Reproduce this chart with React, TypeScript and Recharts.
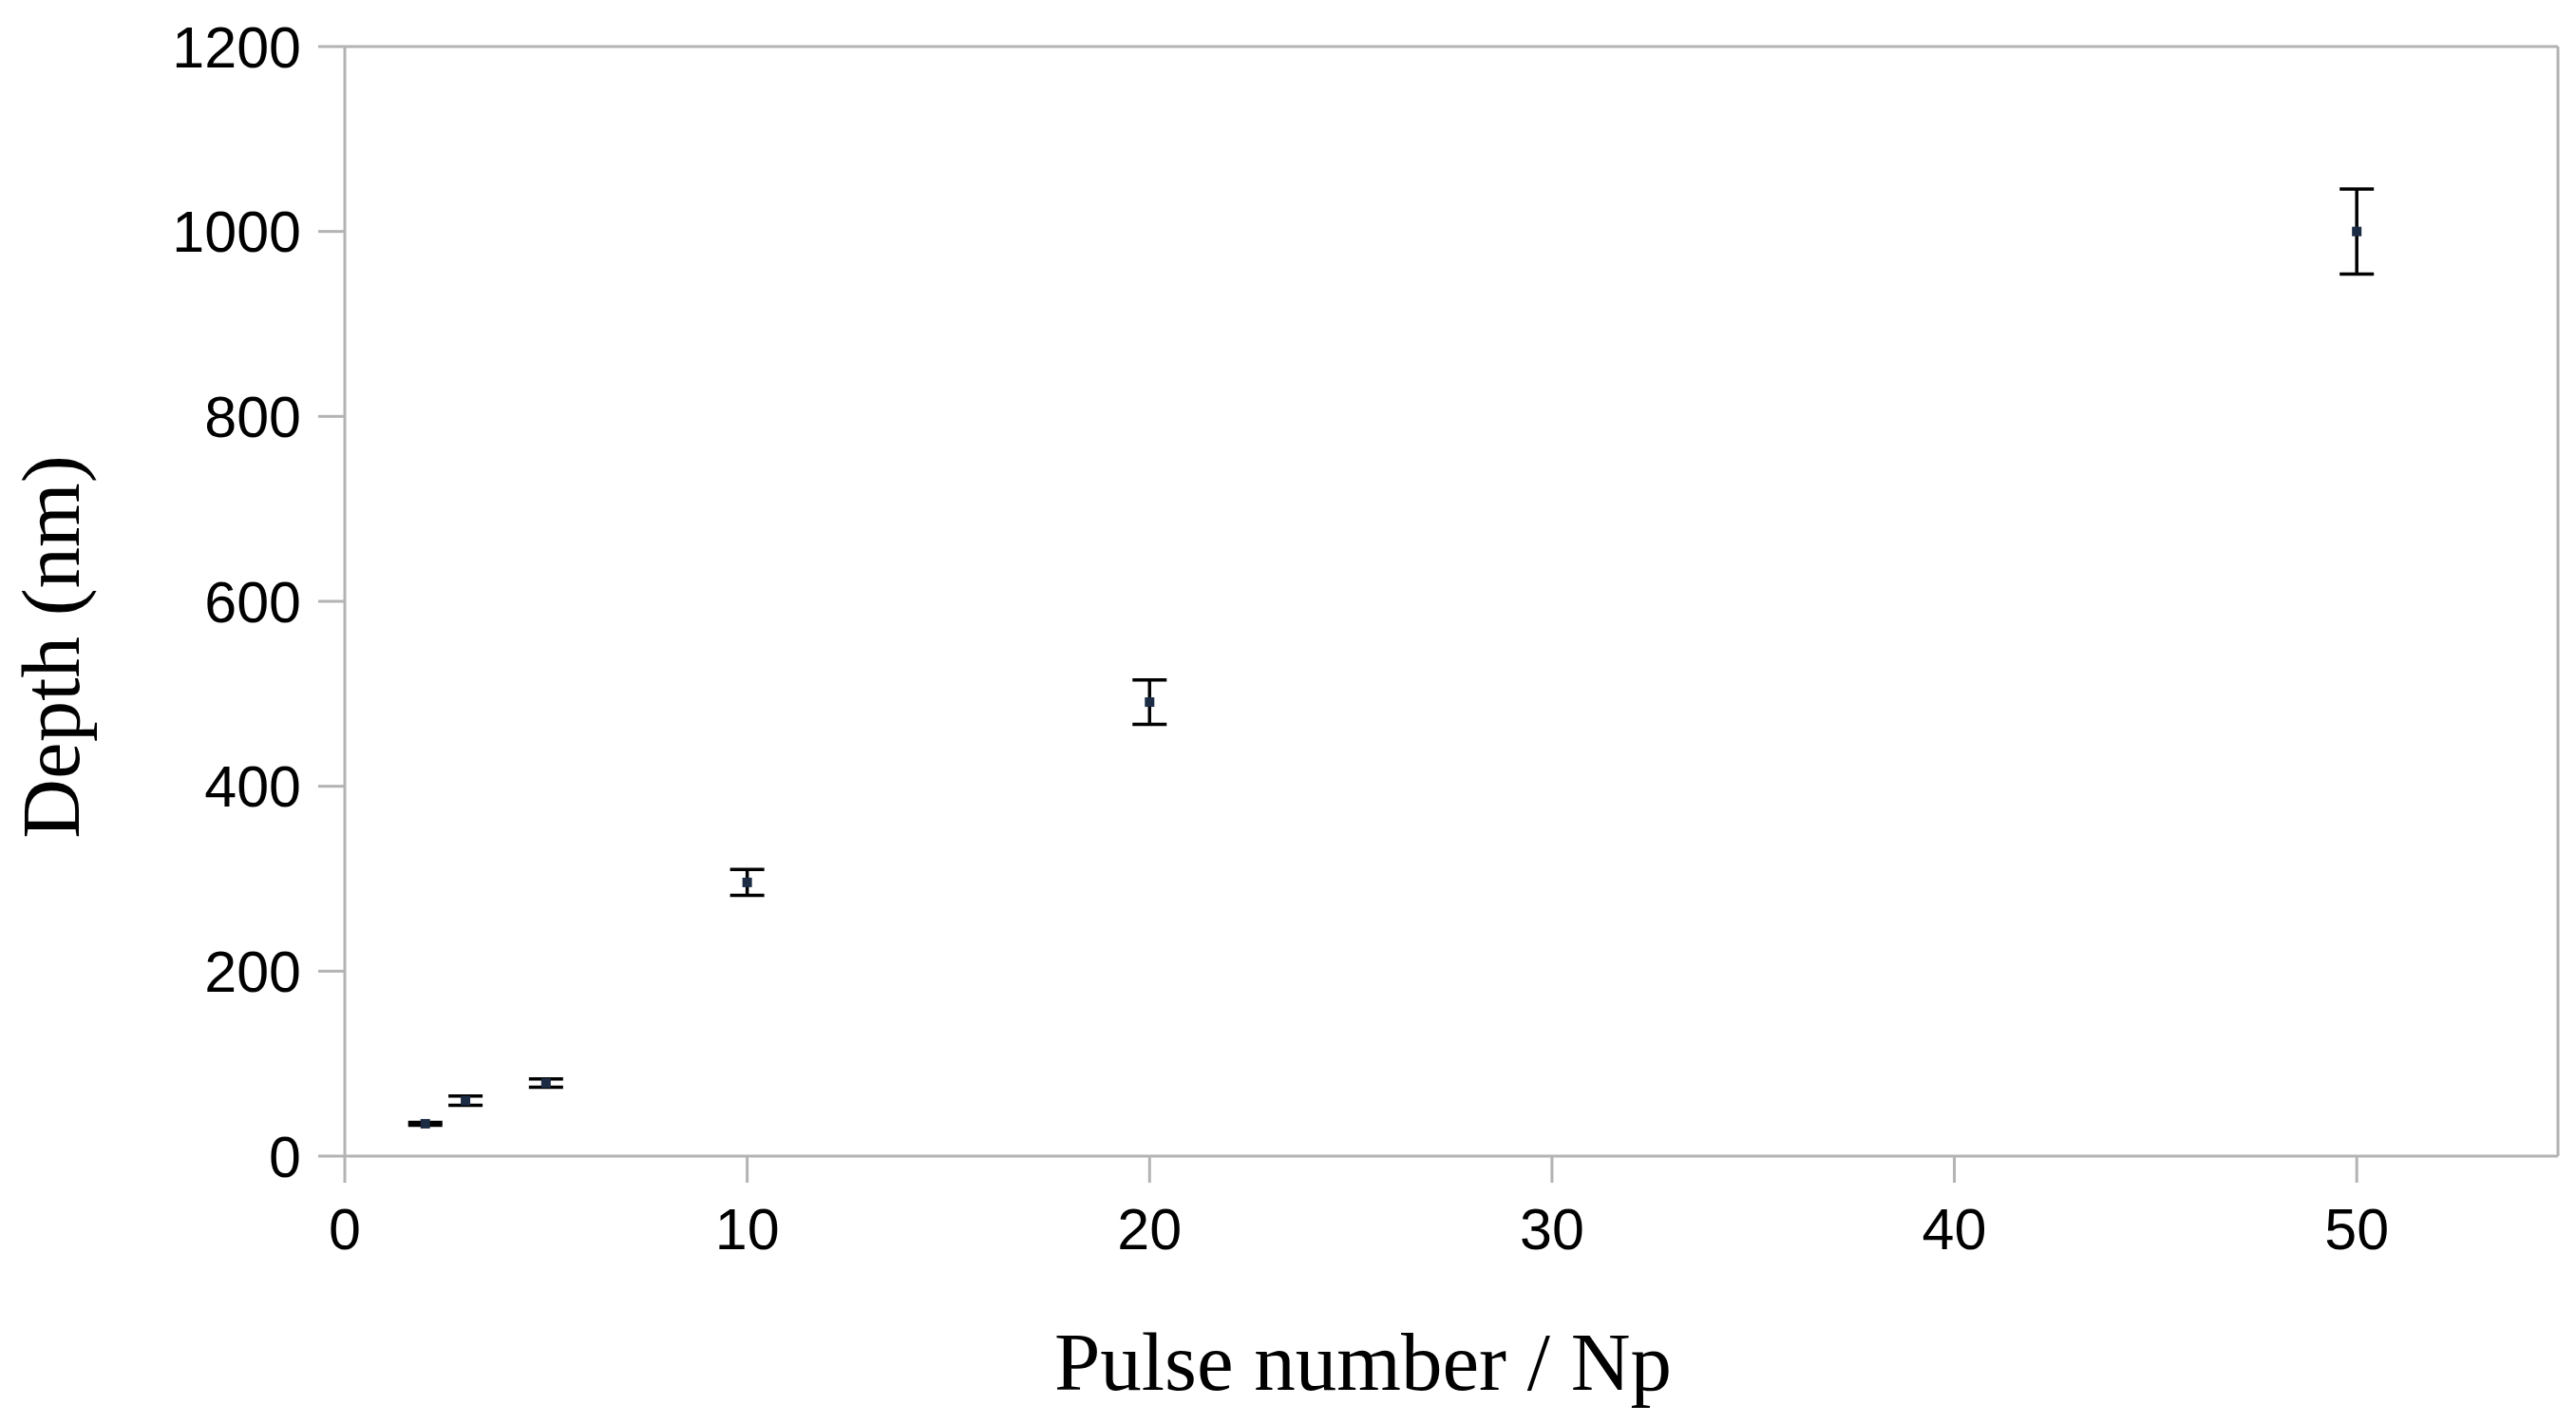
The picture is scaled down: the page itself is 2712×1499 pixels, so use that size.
import React from "react";
import {
  ScatterChart,
  Scatter,
  XAxis,
  YAxis,
  ErrorBar,
  ReferenceLine,
  Label,
} from "recharts";

const pulseNumbers = [2, 3, 5, 10, 20, 50];
const depthValues = [35, 60, 79, 296, 491, 1000];
const depthErrors = [1.5, 5, 4.5, 14, 24, 46];
const xTicks = [0, 10, 20, 30, 40, 50];
const yTicks = [0, 200, 400, 600, 800, 1000, 1200];

const data = pulseNumbers.map((x, i) => ({
  x,
  y: depthValues[i],
  err: depthErrors[i],
}));

const AXIS_COLOR = "#b3b3b3";
const tickStyle = { fontFamily: "Liberation Sans", fontSize: 61, fill: "#000" };

const SquareMarker = (props: any) => {
  const { cx, cy } = props;
  if (cx == null || cy == null) return null;
  return <rect x={cx - 5} y={cy - 5} width={10} height={10} fill="#1b2c44" />;
};

const XLabel = (props: any) => {
  const vb = props.viewBox;
  return (
    <text
      x={vb.x + vb.width / 2 - 93}
      y={vb.y + 246}
      textAnchor="middle"
      style={{ fontFamily: "Liberation Serif", fontSize: 87, fill: "#000" }}
    >
      Pulse number / Np
    </text>
  );
};

const YLabel = (props: any) => {
  const vb = props.viewBox;
  const x = vb.x + 75;
  const y = vb.y + vb.height / 2 + 48;
  return (
    <text
      x={x}
      y={y}
      textAnchor="middle"
      transform={`rotate(-90 ${x} ${y})`}
      style={{ fontFamily: "Liberation Serif", fontSize: 87, fill: "#000" }}
    >
      Depth (nm)
    </text>
  );
};

export default function App() {
  return (
    <div style={{ width: 2696, height: 1483, background: "#fff" }}>
      <ScatterChart
        width={2696}
        height={1483}
        margin={{ top: 41, right: 11, left: 0, bottom: 0 }}
      >
        <XAxis
          type="number"
          dataKey="x"
          domain={[0, 55]}
          ticks={xTicks}
          allowDataOverflow
          height={274}
          tickSize={28}
          tickMargin={27}
          axisLine={{ stroke: AXIS_COLOR, strokeWidth: 3 }}
          tickLine={{ stroke: AXIS_COLOR, strokeWidth: 3 }}
          tick={tickStyle}
        >
          <Label content={<XLabel />} />
        </XAxis>
        <YAxis
          type="number"
          dataKey="y"
          domain={[0, 1200]}
          ticks={yTicks}
          allowDataOverflow
          width={355}
          tickSize={28}
          tickMargin={18}
          axisLine={{ stroke: AXIS_COLOR, strokeWidth: 3 }}
          tickLine={{ stroke: AXIS_COLOR, strokeWidth: 3 }}
          tick={tickStyle}
        >
          <Label content={<YLabel />} />
        </YAxis>
        <ReferenceLine y={1200} stroke={AXIS_COLOR} strokeWidth={3} />
        <ReferenceLine x={55} stroke={AXIS_COLOR} strokeWidth={3} />
        <Scatter
          data={data}
          shape={<SquareMarker />}
          isAnimationActive={false}
        >
          <ErrorBar
            dataKey="err"
            direction="y"
            width={18}
            strokeWidth={3.5}
            stroke="#000"
            isAnimationActive={false}
          />
        </Scatter>
      </ScatterChart>
    </div>
  );
}
